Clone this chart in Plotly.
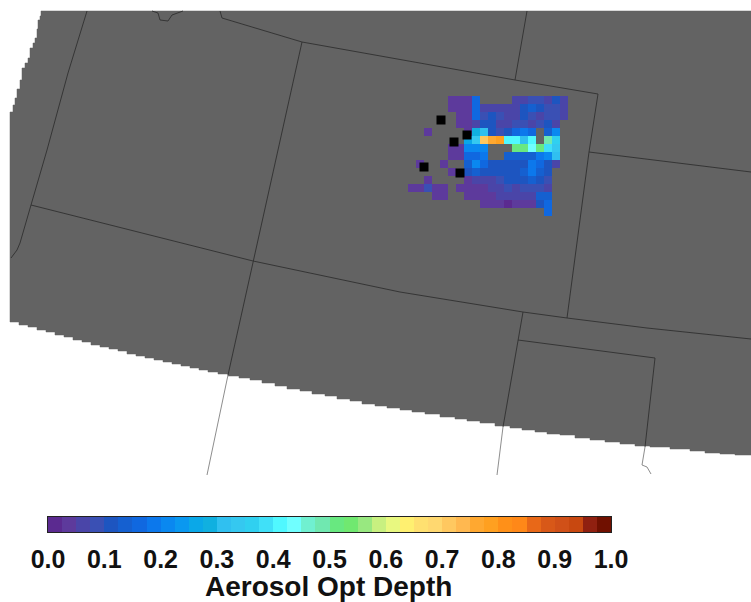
import plotly.graph_objects as go

_ = None
# Map outline in projected map units, stepped like the source raster
LAND_X = [43, 41, 40, 38, 37, 35, 33, 30, 28, 25, 22, 20, 17, 15, 13, 10, 10,
          19, 28, 37, 46, 55, 64, 73, 82, 91, 100, 109, 118, 127, 136, 145, 154, 163, 172, 181, 190, 199, 208, 218, 228,
          239, 250, 262, 275, 287, 300, 312, 325, 337, 350, 362, 375, 387, 400, 412, 425, 440, 455, 467, 480, 495, 510,
          522, 535, 547, 560, 575, 590, 605, 620, 635, 650, 670, 690, 705, 720, 735, 751, 751, 43]
LAND_Y = [11, 16, 20, 29, 38, 43, 48, 58, 63, 68, 80, 89, 98, 105, 112, 122, 322,
          325, 327, 330, 332, 335, 337, 340, 342, 345, 347, 349, 351, 354, 356, 358, 360, 362, 364, 366, 368, 370, 372, 374, 376,
          378, 380, 383, 386, 389, 391, 394, 396, 399, 401, 404, 406, 408, 410, 412, 414, 417, 419, 421, 423, 426, 428,
          430, 432, 434, 435, 438, 440, 442, 444, 446, 447, 449, 451, 453, 454, 455, 455, 11, 11]

BORDER_X = [87, 68, 47, 35, 31, 20, 17, 11, _, 31, 253, 400, 523, 567, 647, 751, _,
            220, 222, 302, 515, 598, 589, 567, _, 589, 751, _, 527, 515, _, 302, 253, 228, _,
            523, 518, 503, _, 518, 655, 645, _, 152, 158, 160, 168, 172, 183]
BORDER_Y = [11, 73, 150, 190, 205, 243, 250, 258, _, 205, 261, 292, 312, 318, 328, 339, _,
            11, 18, 42, 80, 94, 152, 318, _, 152, 172, _, 11, 80, _, 42, 261, 375, _,
            312, 340, 427, _, 340, 358, 447, _, 11, 13, 20, 21, 15, 11]
OUTER_X = [228, 207, _, 503, 497, _, 645, 642, 647, 651]
OUTER_Y = [375, 475, _, 427, 475, _, 447, 465, 467, 474]

# Aerosol optical depth per retrieval cell
CELL_X0, CELL_Y0, CELL_W, CELL_H = 408, 96, 8, 8
AOD = [
    [_, _, _, _, _, .03, .03, .03, .15, _, _, _, _, .06, .06, .09, .09, .07, .10, .07],
    [_, _, _, _, _, .03, .03, .03, .17, .07, .06, .06, .06, .07, .10, .13, .12, .08, .08, .06],
    [_, _, _, _, _, _, .03, .03, .15, .08, .10, .08, .07, .07, .10, .08, .07, .08, .08, .05],
    [_, _, _, _, _, _, .03, .04, .05, .10, .10, .06, .07, .08, .08, .07, .09, .12, .06, _],
    [_, _, .03, _, _, _, _, .03, .28, .30, .10, .08, .10, .15, .18, .17, _, .14, .20, _],
    [_, _, _, _, _, _, _, .25, .33, .72, .76, .78, .42, .40, .30, .42, _, .48, .36, .33][:19] + [_],
    [_, _, _, _, _, .03, .03, .20, .22, .22, _, _, _, .52, .50, .44, .52, .38, .33, _],
    [_, _, _, _, _, .03, .03, .17, .16, .18, _, _, .13, .14, .14, .14, .18, .22, .30, _],
    [_, .03, _, _, .03, _, _, .13, .20, .17, .11, .10, .10, .11, .12, .18, .16, .10, .06, _],
    [_, _, _, _, _, .03, _, .12, .13, .10, .10, .12, .11, .11, .13, .18, .14, .10, _, _],
    [_, _, .03, _, _, _, _, .04, .05, .06, .07, .09, .10, .10, .12, .14, .11, .09, _, _],
    [.03, .03, .08, .03, .03, _, .03, .03, .03, .04, .05, .07, .08, .07, .08, .09, .09, .07, _, _],
    [_, _, _, .03, .03, _, _, .03, .03, .03, .04, .05, .06, .06, .06, .07, .14, .13, _, _],
    [_, _, _, _, _, _, _, _, _, .03, .03, .03, .02, .03, .04, .04, .12, .17, _, _],
    [_, _, _, _, _, _, _, _, _, _, _, _, _, _, _, _, _, .16, _, _],
]
NO_DATA_X = [441, 454, 467, 424, 460]
NO_DATA_Y = [120, 142, 135, 167, 173]

PALETTE = ["#5b2a90", "#5d3a9c", "#4a45a8", "#3a50b4", "#1d55c0", "#1560d0", "#1068e0", "#0c78ec", "#0a88f0",
           "#0a98f0", "#0aa8e8", "#10b0e0", "#30c0f0", "#35c8f0", "#30d0f0", "#40e0f8", "#50f8ff", "#70ffff",
           "#70f0d0", "#70e8b0", "#68e880", "#70e870", "#98e880", "#c8f080", "#e8f880", "#fff070", "#ffe070",
           "#ffd870", "#ffc860", "#ffb850", "#ffa830", "#ffa020", "#ff9018", "#ff8818", "#e86818", "#d85818",
           "#d05018", "#c84810", "#902010", "#701000"]
TICK_VALUES = [0.0, 0.1, 0.2, 0.3, 0.4, 0.5, 0.6, 0.7, 0.8, 0.9, 1.0]
TICK_LABELS = ["0.0", "0.1", "0.2", "0.3", "0.4", "0.5", "0.6", "0.7", "0.8", "0.9", "1.0"]
BAR_TITLE = "Aerosol Opt Depth"

n = len(PALETTE)
scale = []
for i, c in enumerate(PALETTE):
    scale += [[i / n, c], [(i + 1) / n, c]]

W, H = 751, 602
fig = go.Figure()
fig.add_trace(go.Scatter(x=LAND_X, y=LAND_Y, mode="lines", fill="toself", fillcolor="#636363",
                         line=dict(color="#636363", width=0.5, shape="hv"), hoverinfo="skip",
                         xaxis="x", yaxis="y"))
fig.add_trace(go.Heatmap(z=AOD, x0=CELL_X0 + CELL_W / 2, dx=CELL_W, y0=CELL_Y0 + CELL_H / 2, dy=CELL_H,
                         colorscale=scale, zmin=0, zmax=1, showscale=False, hoverongaps=False,
                         xaxis="x3", yaxis="y3"))
fig.add_trace(go.Scatter(x=NO_DATA_X, y=NO_DATA_Y, mode="markers",
                         marker=dict(symbol="square", size=9, color="black"), xaxis="x3", yaxis="y3"))
fig.add_trace(go.Scatter(x=BORDER_X, y=BORDER_Y, mode="lines", line=dict(color="#303030", width=0.9),
                         connectgaps=False, xaxis="x3", yaxis="y3"))
fig.add_trace(go.Scatter(x=OUTER_X, y=OUTER_Y, mode="lines", line=dict(color="#808080", width=0.9),
                         connectgaps=False, xaxis="x3", yaxis="y3"))
fig.add_trace(go.Heatmap(z=[[(i + 0.5) / n for i in range(n)]], x0=0.5 / n, dx=1 / n, y0=0, dy=1,
                         colorscale=scale, zmin=0, zmax=1, showscale=False, xaxis="x2", yaxis="y2"))

hidden = dict(visible=False, fixedrange=True)
fig.update_layout(
    width=W, height=H, autosize=False, showlegend=False,
    margin=dict(l=0, r=0, t=0, b=0, autoexpand=False), paper_bgcolor="white", plot_bgcolor="rgba(0,0,0,0)",
    xaxis=dict(range=[0, W], domain=[0, 1], **hidden),
    yaxis=dict(range=[H, 0], domain=[0, 1], **hidden),
    xaxis3=dict(range=[0, W], domain=[0, 1], overlaying="x", **hidden),
    yaxis3=dict(range=[H, 0], domain=[0, 1], overlaying="y", **hidden),
    xaxis2=dict(range=[0, 1], domain=[48 / W, 611 / W], anchor="y2", tickvals=TICK_VALUES, ticktext=TICK_LABELS,
                ticklen=0, showgrid=False, zeroline=False, showline=True, mirror=True, linecolor="#222222",
                linewidth=1, ticklabelstandoff=5,
                tickfont=dict(family="Liberation Sans", size=25, color="#111111", weight="bold")),
    yaxis2=dict(range=[-0.5, 0.5], domain=[1 - 532 / H, 1 - 517 / H], anchor="x2", showticklabels=False,
                ticklen=0, showgrid=False, zeroline=False, showline=True, mirror=True, linecolor="#222222",
                linewidth=1),
    annotations=[dict(text="<b>" + BAR_TITLE + "</b>", x=328.5 / W, y=0, xref="paper", yref="paper",
                      xanchor="center", yanchor="bottom", showarrow=False, borderpad=0, borderwidth=0,
                      font=dict(family="Liberation Sans", size=28, color="#111111"))],
)
fig.write_html("out.html", config={"displayModeBar": False},
               post_script="document.body.style.margin='0';document.documentElement.style.overflow='hidden';")
